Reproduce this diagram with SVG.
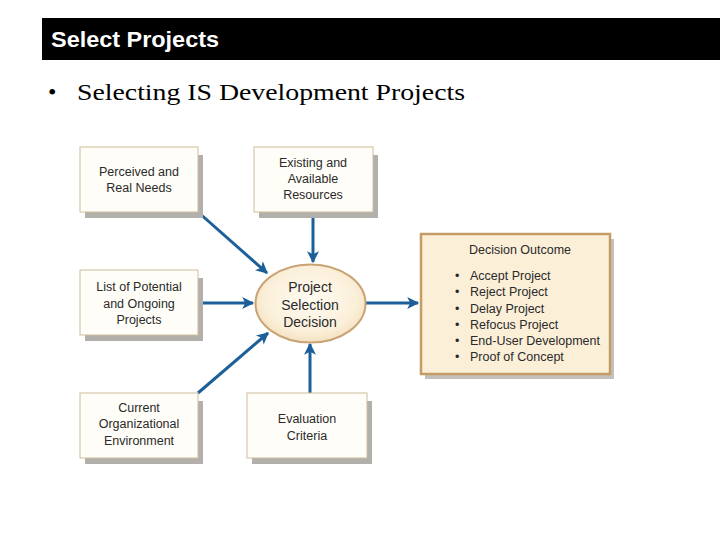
<svg xmlns="http://www.w3.org/2000/svg" width="720" height="540" viewBox="0 0 720 540">
<defs>
<style>
.box{fill:#fffdf7;stroke:#cdbd9c;stroke-width:1}
.sh{fill:#b3afab}
.t{font-family:"Liberation Sans",Arial,sans-serif;font-size:12.5px;fill:#2a2a2a;text-anchor:middle}
.et{font-family:"Liberation Sans",Arial,sans-serif;font-size:14px;fill:#2a2a2a;text-anchor:middle}
.ot{font-family:"Liberation Sans",Arial,sans-serif;font-size:12.5px;fill:#2a2a2a}
.hd{font-family:"Liberation Sans",Arial,sans-serif;font-weight:bold;font-size:22px;fill:#ffffff}
.sub{font-family:"Liberation Serif","Times New Roman",serif;font-size:24px;fill:#000000}
.arr{stroke:#1d5f98;stroke-width:3;fill:none;marker-end:url(#ah)}
</style>
<marker id="ah" viewBox="0 0 10 10" refX="9" refY="5" markerWidth="4.2" markerHeight="4" orient="auto" markerUnits="strokeWidth">
<path d="M0,0 L10,5 L0,10 L2.5,5 Z" fill="#1d5f98"/>
</marker>
<radialGradient id="eg" cx="50%" cy="45%" r="60%">
<stop offset="0" stop-color="#fffbf2"/>
<stop offset="0.7" stop-color="#fbefd9"/>
<stop offset="1" stop-color="#f1ddb8"/>
</radialGradient>
</defs>
<rect width="720" height="540" fill="#ffffff"/>
<g id="header">
<rect x="42" y="18" width="678" height="42" fill="#000000"/>
<text class="hd" x="51" y="47" textLength="168" lengthAdjust="spacingAndGlyphs">Select Projects</text>
</g>
<g id="subtitle">
<text class="sub" x="48" y="100">•</text>
<text class="sub" x="77" y="100" textLength="388" lengthAdjust="spacingAndGlyphs">Selecting IS Development Projects</text>
</g>
<g id="connectors">
<line class="arr" x1="198" y1="212" x2="267" y2="273"/>
<line class="arr" x1="313" y1="212" x2="313" y2="262"/>
<line class="arr" x1="198" y1="303" x2="253" y2="303"/>
<line class="arr" x1="198" y1="393" x2="268" y2="333"/>
<line class="arr" x1="310" y1="393" x2="310" y2="344"/>
<line class="arr" x1="366" y1="303" x2="418" y2="303"/>
</g>
<g id="perceived">
<rect class="sh" x="85" y="155" width="118" height="63"/>
<rect class="box" x="80" y="147" width="118" height="65"/>
<text class="t" x="139" y="176">Perceived and</text>
<text class="t" x="139" y="192">Real Needs</text>
</g>
<g id="existing">
<rect class="sh" x="259" y="155" width="119" height="63"/>
<rect class="box" x="254" y="147" width="119" height="65"/>
<text class="t" x="313" y="167">Existing and</text>
<text class="t" x="313" y="183">Available</text>
<text class="t" x="313" y="199">Resources</text>
</g>
<g id="list">
<rect class="sh" x="85" y="278" width="118" height="63"/>
<rect class="box" x="80" y="270" width="118" height="65"/>
<text class="t" x="139" y="291">List of Potential</text>
<text class="t" x="139" y="308">and Ongoing</text>
<text class="t" x="139" y="324">Projects</text>
</g>
<g id="current">
<rect class="sh" x="85" y="401" width="118" height="63"/>
<rect class="box" x="80" y="393" width="118" height="65"/>
<text class="t" x="139" y="412">Current</text>
<text class="t" x="139" y="428">Organizational</text>
<text class="t" x="139" y="445">Environment</text>
</g>
<g id="evaluation">
<rect class="sh" x="252" y="401" width="120" height="63"/>
<rect class="box" x="247" y="393" width="120" height="65"/>
<text class="t" x="307" y="423">Evaluation</text>
<text class="t" x="307" y="440">Criteria</text>
</g>
<g id="decision">
<ellipse cx="310.5" cy="303.5" rx="55" ry="39" fill="url(#eg)" stroke="#c9a374" stroke-width="2"/>
<text class="et" x="310" y="292">Project</text>
<text class="et" x="310" y="310">Selection</text>
<text class="et" x="310" y="327">Decision</text>
</g>
<g id="outcome">
<rect x="425" y="239" width="189" height="140" fill="#c4c0bc"/>
<rect x="421" y="234" width="189" height="140" fill="#fbefd8" stroke="#c69c66" stroke-width="2.5"/>
<text class="ot" x="520" y="254" text-anchor="middle">Decision Outcome</text>
<text class="ot" x="455" y="280">•</text><text class="ot" x="470" y="280">Accept Project</text>
<text class="ot" x="455" y="296">•</text><text class="ot" x="470" y="296">Reject Project</text>
<text class="ot" x="455" y="313">•</text><text class="ot" x="470" y="313">Delay Project</text>
<text class="ot" x="455" y="329">•</text><text class="ot" x="470" y="329">Refocus Project</text>
<text class="ot" x="455" y="345">•</text><text class="ot" x="470" y="345">End-User Development</text>
<text class="ot" x="455" y="361">•</text><text class="ot" x="470" y="361">Proof of Concept</text>
</g>
</svg>
